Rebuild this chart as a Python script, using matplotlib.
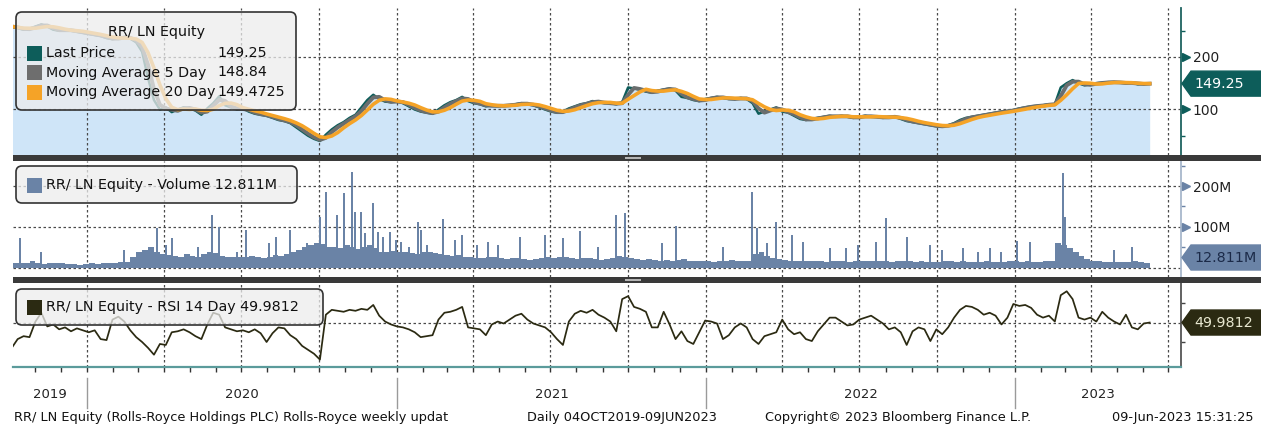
import numpy as np
import pandas as pd
import matplotlib
matplotlib.use("Agg")
from matplotlib import pyplot as plt
import matplotlib.dates as mdates
from matplotlib.patches import FancyBboxPatch, Polygon, Rectangle
from matplotlib.transforms import IdentityTransform, blended_transform_factory
from matplotlib.ticker import FixedLocator, NullFormatter

W, H = 1261, 430
PX = IdentityTransform()

# weekly closes (Fridays)
weeks = pd.date_range("2019-10-04", "2023-06-09", freq="7D")

last_price = [
    258, 255, 252, 254, 258, 262, 258, 252, 250, 252,
    250, 248, 246, 244, 242, 240, 236, 234, 236, 238,
    235, 228, 210, 160, 118, 100, 104, 95, 100, 104,
    102, 98, 90, 102, 112, 125, 108, 104, 100, 102,
    96, 92, 90, 88, 84, 80, 78, 74, 66, 58,
    50, 44, 40, 52, 62, 70, 76, 84, 90, 104,
    118, 128, 120, 115, 114, 116, 112, 106, 100, 96,
    94, 92, 100, 108, 114, 118, 124, 116, 112, 110,
    106, 108, 106, 108, 108, 110, 112, 110, 108, 104,
    100, 96, 94, 96, 102, 106, 110, 112, 116, 114,
    112, 112, 110, 114, 142, 140, 138, 134, 132, 136,
    138, 140, 136, 124, 122, 118, 116, 120, 122, 124,
    122, 120, 120, 122, 120, 112, 92, 96, 100, 104,
    96, 94, 88, 82, 80, 82, 84, 86, 88, 86,
    88, 86, 84, 86, 88, 86, 86, 84, 86, 86,
    82, 78, 76, 74, 72, 70, 68, 68, 70, 74,
    80, 84, 86, 88, 90, 92, 94, 96, 97, 99,
    102, 104, 106, 107, 108, 110, 110, 142, 150, 156,
    150, 146, 148, 150, 151, 152, 152, 151, 150, 151,
    148, 149, 149.25,
]

# weekly volume level, millions
vol_base = [
    14, 12, 11, 13, 18, 12, 10, 11, 12, 11,
    10, 9, 8, 10, 11, 10, 12, 11, 13, 15,
    14, 28, 40, 45, 50, 38, 35, 32, 30, 28,
    33, 30, 28, 35, 38, 36, 30, 28, 26, 28,
    26, 30, 27, 25, 28, 32, 30, 34, 40, 45,
    50, 55, 60, 58, 52, 50, 48, 55, 50, 46,
    52, 55, 48, 40, 38, 42, 40, 38, 36, 35,
    38, 40, 36, 34, 32, 30, 32, 28, 26, 25,
    24, 26, 28, 24, 22, 25, 24, 22, 20, 22,
    24, 26, 25, 28, 26, 24, 22, 24, 25, 22,
    20, 22, 24, 30, 28, 25, 22, 20, 22, 20,
    18, 20, 18, 20, 22, 18, 16, 18, 16, 15,
    16, 18, 20, 18, 16, 18, 35, 40, 30, 25,
    22, 20, 18, 18, 17, 16, 16, 17, 15, 16,
    17, 16, 15, 16, 17, 16, 16, 17, 16, 15,
    16, 17, 16, 15, 16, 15, 14, 15, 16, 17,
    15, 16, 15, 14, 15, 16, 15, 14, 15, 16,
    16, 15, 16, 14, 15, 16, 18, 60, 55, 48,
    40, 30, 22, 18, 16, 15, 14, 15, 14, 15,
    16, 14, 13,
]

# single heavy sessions, millions
spike_dates = [
    "2019-10-14", "2019-11-07", "2020-02-14", "2020-03-24", "2020-04-03",
    "2020-04-10", "2020-05-11", "2020-05-27", "2020-06-05", "2020-06-26",
    "2020-07-07", "2020-08-03", "2020-08-11", "2020-08-28", "2020-09-17",
    "2020-10-02", "2020-10-09", "2020-10-22", "2020-10-30", "2020-11-09",
    "2020-11-13", "2020-11-19", "2020-11-24", "2020-12-04", "2020-12-10",
    "2020-12-16", "2020-12-24", "2020-12-31", "2021-01-06", "2021-01-15",
    "2021-01-26", "2021-01-29", "2021-02-05", "2021-02-24", "2021-03-10",
    "2021-03-19", "2021-04-06", "2021-04-19", "2021-04-30", "2021-05-26",
    "2021-06-25", "2021-07-16", "2021-08-05", "2021-08-26", "2021-09-17",
    "2021-09-27", "2021-11-10", "2021-11-26", "2022-01-21", "2022-02-24",
    "2022-03-02", "2022-03-14", "2022-03-25", "2022-04-13", "2022-04-25",
    "2022-05-27", "2022-06-15", "2022-06-30", "2022-07-21", "2022-08-02",
    "2022-08-26", "2022-09-23", "2022-10-07", "2022-11-01", "2022-11-18",
    "2022-12-02", "2022-12-15", "2023-01-03", "2023-01-19", "2023-02-27",
    "2023-03-01", "2023-04-28", "2023-05-19",
]
spike_vol = [
    73, 39, 44, 98, 55,
    73, 51, 129, 100, 39,
    93, 61, 76, 93, 61,
    124, 185, 129, 183, 234,
    136, 136, 85, 158, 88,
    76, 88, 68, 63, 51,
    112, 93, 56, 119, 68,
    80, 56, 63, 55, 76,
    80, 73, 90, 51, 129,
    134, 61, 102, 51, 185,
    98, 61, 112, 80, 63,
    49, 49, 56, 63, 122,
    76, 56, 44, 49, 39,
    49, 39, 66, 63, 232,
    124, 44, 51,
]

rsi_14 = [
    24, 33, 36, 35, 51, 60, 46, 48, 43, 45,
    41, 44, 42, 40, 42, 33, 32, 53, 56, 51,
    42, 35, 30, 24, 17, 28, 27, 40, 41, 43,
    40, 36, 33, 48, 60, 58, 45, 43, 41, 42,
    40, 43, 39, 30, 39, 45, 44, 37, 33, 26,
    22, 18, 12, 58, 63, 62, 61, 63, 62, 64,
    63, 68, 57, 51, 48, 46, 45, 43, 40, 35,
    36, 37, 53, 60, 61, 63, 66, 45, 44, 43,
    37, 48, 51, 49, 53, 57, 59, 53, 49, 47,
    45, 40, 33, 27, 51, 59, 62, 60, 63, 58,
    55, 51, 41, 74, 77, 66, 64, 61, 45, 45,
    61, 48, 33, 41, 31, 28, 40, 52, 51, 49,
    33, 37, 45, 49, 45, 33, 28, 36, 38, 40,
    53, 43, 38, 40, 33, 31, 41, 48, 55, 55,
    51, 47, 48, 53, 55, 57, 53, 49, 43, 45,
    40, 27, 41, 45, 43, 31, 43, 38, 45, 55,
    63, 67, 66, 63, 58, 60, 57, 48, 55, 69,
    67, 68, 65, 58, 55, 57, 51, 78, 82, 74,
    55, 53, 55, 51, 61, 55, 51, 48, 58, 45,
    43, 49, 49.9812,
]

LAST, MA5_LAST, MA20_LAST = 149.25, 148.84, 149.4725
VOL_LAST, RSI_LAST = 12.811, 49.9812

TEAL = "#0d5d5a"
GREY = "#6a6e6e"
ORANGE = "#f5a327"
FILL = "#cfe5f8"
VOLC = "#6a83a6"
RSIC = "#2b2a12"
GRID = "#4a4a4a"

xw = mdates.date2num(weeks.to_pydatetime())
s = pd.Series(last_price, index=weeks)
ma5 = s.rolling(2, min_periods=1).mean().values
ma20 = s.rolling(4, min_periods=1).mean().values

fig = plt.figure(figsize=(W / 100, H / 100), dpi=100)
fig.patch.set_facecolor("white")


def px_axes(x0, y0, x1, y1):
    return fig.add_axes([x0 / W, 1 - y1 / H, (x1 - x0) / W, (y1 - y0) / H])


def P(x, ytop):
    return (x, H - ytop)


ax_p = px_axes(13, 8, 1181, 155)
ax_v = px_axes(13, 161, 1181, 277)
ax_r = px_axes(13, 283, 1181, 367)

xlo = mdates.date2num(pd.Timestamp("2019-10-05 12:00"))
xhi = mdates.date2num(pd.Timestamp("2023-07-16"))
quarters = mdates.date2num(pd.date_range("2020-01-01", "2023-07-01", freq="QS").to_pydatetime())

for ax in (ax_p, ax_v, ax_r):
    ax.set_xlim(xlo, xhi)
    ax.set_facecolor("white")
    for side in ("left", "top", "bottom"):
        ax.spines[side].set_visible(False)
    ax.tick_params(axis="x", which="both", bottom=False, labelbottom=False)
    for q in quarters:
        ax.axvline(q, color=GRID, lw=0.9, ls=(0, (2, 2)), zorder=2)

# price panel
ax_p.set_ylim(13.3, 293.3)
ax_p.fill_between(xw, last_price, 0, color=FILL, lw=0, zorder=1)
for lvl in (100, 200):
    ax_p.axhline(lvl, color=GRID, lw=0.9, ls=(0, (2, 2)), zorder=2)
ax_p.plot(xw, last_price, color=TEAL, lw=1.8, zorder=3)
ax_p.plot(xw, ma5, color=GREY, lw=2.8, zorder=4)
ax_p.plot(xw, ma20, color=ORANGE, lw=2.6, zorder=5)

# volume panel
ax_v.set_ylim(-22, 261)
for lvl in (0, 100, 200):
    ax_v.axhline(lvl, color=GRID, lw=0.9, ls=(0, (2, 2)), zorder=2)
ax_v.bar(xw, vol_base, width=-7, align="edge", color=VOLC, lw=0, zorder=3)
spk = mdates.date2num(pd.to_datetime(spike_dates).to_pydatetime())
ax_v.bar(spk, spike_vol, width=2.4, color=VOLC, lw=0, zorder=3)

# rsi panel
ax_r.set_ylim(4.4, 90.5)
ax_r.axhline(50, color=GRID, lw=0.9, ls=(0, (2, 2)), zorder=2)
ax_r.plot(xw, rsi_14, color=RSIC, lw=1.25, zorder=3)


def right_axis(ax, major, labels, minor, color, spine_color):
    ax.yaxis.tick_right()
    ax.set_yticks(major)
    ax.set_yticklabels(labels)
    ax.yaxis.set_minor_locator(FixedLocator(minor))
    ax.tick_params(axis="y", which="major", length=0, pad=8.5,
                   labelsize=10, labelcolor="#222222")
    ax.tick_params(axis="y", which="minor", length=3, width=1, color=color)
    ax.spines["right"].set_color(spine_color)
    ax.spines["right"].set_linewidth(1.3)
    if major:
        tr = blended_transform_factory(ax.transAxes, ax.transData)
        ax.plot([1.0042] * len(major), major, ls="none", marker=">", ms=6,
                color=color, transform=tr, clip_on=False, zorder=6)


right_axis(ax_p, [100, 200], ["100", "200"], [50, 150, 250], TEAL, "#1f6360")
right_axis(ax_v, [100, 200], ["100M", "200M"], [50, 150, 250], VOLC, "#a8b8cc")
right_axis(ax_r, [], [], [30, 70], "#444444", "#555555")

# bottom date axis
ax_r.spines["bottom"].set_visible(True)
ax_r.spines["bottom"].set_color("#5b9b9b")
ax_r.spines["bottom"].set_linewidth(1.6)
ax_r.xaxis.set_major_locator(mdates.MonthLocator())
ax_r.xaxis.set_major_formatter(NullFormatter())
ax_r.tick_params(axis="x", which="major", bottom=True, length=3.6, width=1,
                 color="#333333")

trx = blended_transform_factory(ax_r.transData, ax_r.transAxes)
for yr in range(2019, 2024):
    start = mdates.date2num(pd.Timestamp(f"{yr}-01-01"))
    a = max(xlo, start)
    b = min(xhi, mdates.date2num(pd.Timestamp(f"{yr + 1}-01-01")))
    ax_r.text((a + b) / 2, -0.333, str(yr), transform=trx, ha="center",
              va="center", fontsize=9.5, color="#222222")
    if yr > 2019:
        ax_r.plot([start, start], [-0.13, -0.49], transform=trx, clip_on=False,
                  color="#9a9a9a", lw=1)

# panel separators
for y0 in (155, 277):
    fig.add_artist(Rectangle(P(13, y0 + 6), 1261 - 13, 6, transform=PX,
                             facecolor="#3a3a3a", edgecolor="none"))
    fig.add_artist(Rectangle(P(625, y0 + 4), 16, 2, transform=PX,
                             facecolor="#b5b5b5", edgecolor="none"))


def value_tag(ax, val, text, face, tcolor, bottom_px):
    yc = H - ax.transData.transform((xlo, val))[1]
    h = 12.5
    yc = min(yc, bottom_px - h - 7)
    pts = [P(1182, yc), P(1191, yc - h), P(1261, yc - h),
           P(1261, yc + h), P(1191, yc + h)]
    fig.add_artist(Polygon(pts, closed=True, transform=PX, facecolor=face,
                           edgecolor=face, lw=1))
    fig.text(1194, H - yc, text, transform=PX, color=tcolor, fontsize=10.3,
             ha="left", va="center")


value_tag(ax_p, LAST, f"{LAST:.2f}", TEAL, "white", 155)
value_tag(ax_v, VOL_LAST, f"{VOL_LAST:.3f}M", VOLC, "#1b2a48", 277)
value_tag(ax_r, RSI_LAST, f"{RSI_LAST:.4f}", RSIC, "#e8e8d0", 367)


def legend_box(x0, y0, x1, y1):
    fig.add_artist(FancyBboxPatch(P(x0, y1), x1 - x0, y1 - y0,
                                  boxstyle="round,pad=0,rounding_size=6",
                                  transform=PX, facecolor=(0.93, 0.93, 0.93, 0.75),
                                  edgecolor="#333333", lw=1.2))


def swatch(x, yc, color):
    fig.add_artist(Rectangle(P(x, yc + 7.5), 15, 15, transform=PX,
                             facecolor=color, edgecolor="none"))


def label(x, yc, text, **kw):
    fig.text(x, H - yc, text, transform=PX, fontsize=10.3, color="#111111",
             va="center", **kw)


legend_box(16, 12, 296, 110)
label(156, 32, "RR/ LN Equity", ha="center")
rows = [("Last Price", f"{LAST:.2f}", TEAL),
        ("Moving Average 5 Day", f"{MA5_LAST:.2f}", "#6e6e6e"),
        ("Moving Average 20 Day", f"{MA20_LAST:.4f}", ORANGE)]
for k, (name, val, col) in enumerate(rows):
    yc = 53 + k * 19.5
    swatch(27, yc, col)
    label(46, yc, name)
    label(217, yc, val)

legend_box(16, 166, 297, 203)
swatch(27, 185, VOLC)
label(46, 185, f"RR/ LN Equity - Volume {VOL_LAST:.3f}M")

legend_box(16, 289, 323, 325)
swatch(27, 307, RSIC)
label(46, 307, f"RR/ LN Equity - RSI 14 Day {RSI_LAST:.4f}")

# footer
foot = dict(transform=PX, fontsize=9.3, color="#111111", va="center")
fig.text(14, H - 418, "RR/ LN Equity (Rolls-Royce Holdings PLC) Rolls-Royce weekly updat", **foot)
fig.text(527, H - 418, "Daily 04OCT2019-09JUN2023", **foot)
fig.text(765, H - 418, "Copyright\u00a9 2023 Bloomberg Finance L.P.", **foot)
fig.text(1253, H - 418, "09-Jun-2023 15:31:25", ha="right", **foot)

fig.savefig("out.png", dpi=100, facecolor="white")
